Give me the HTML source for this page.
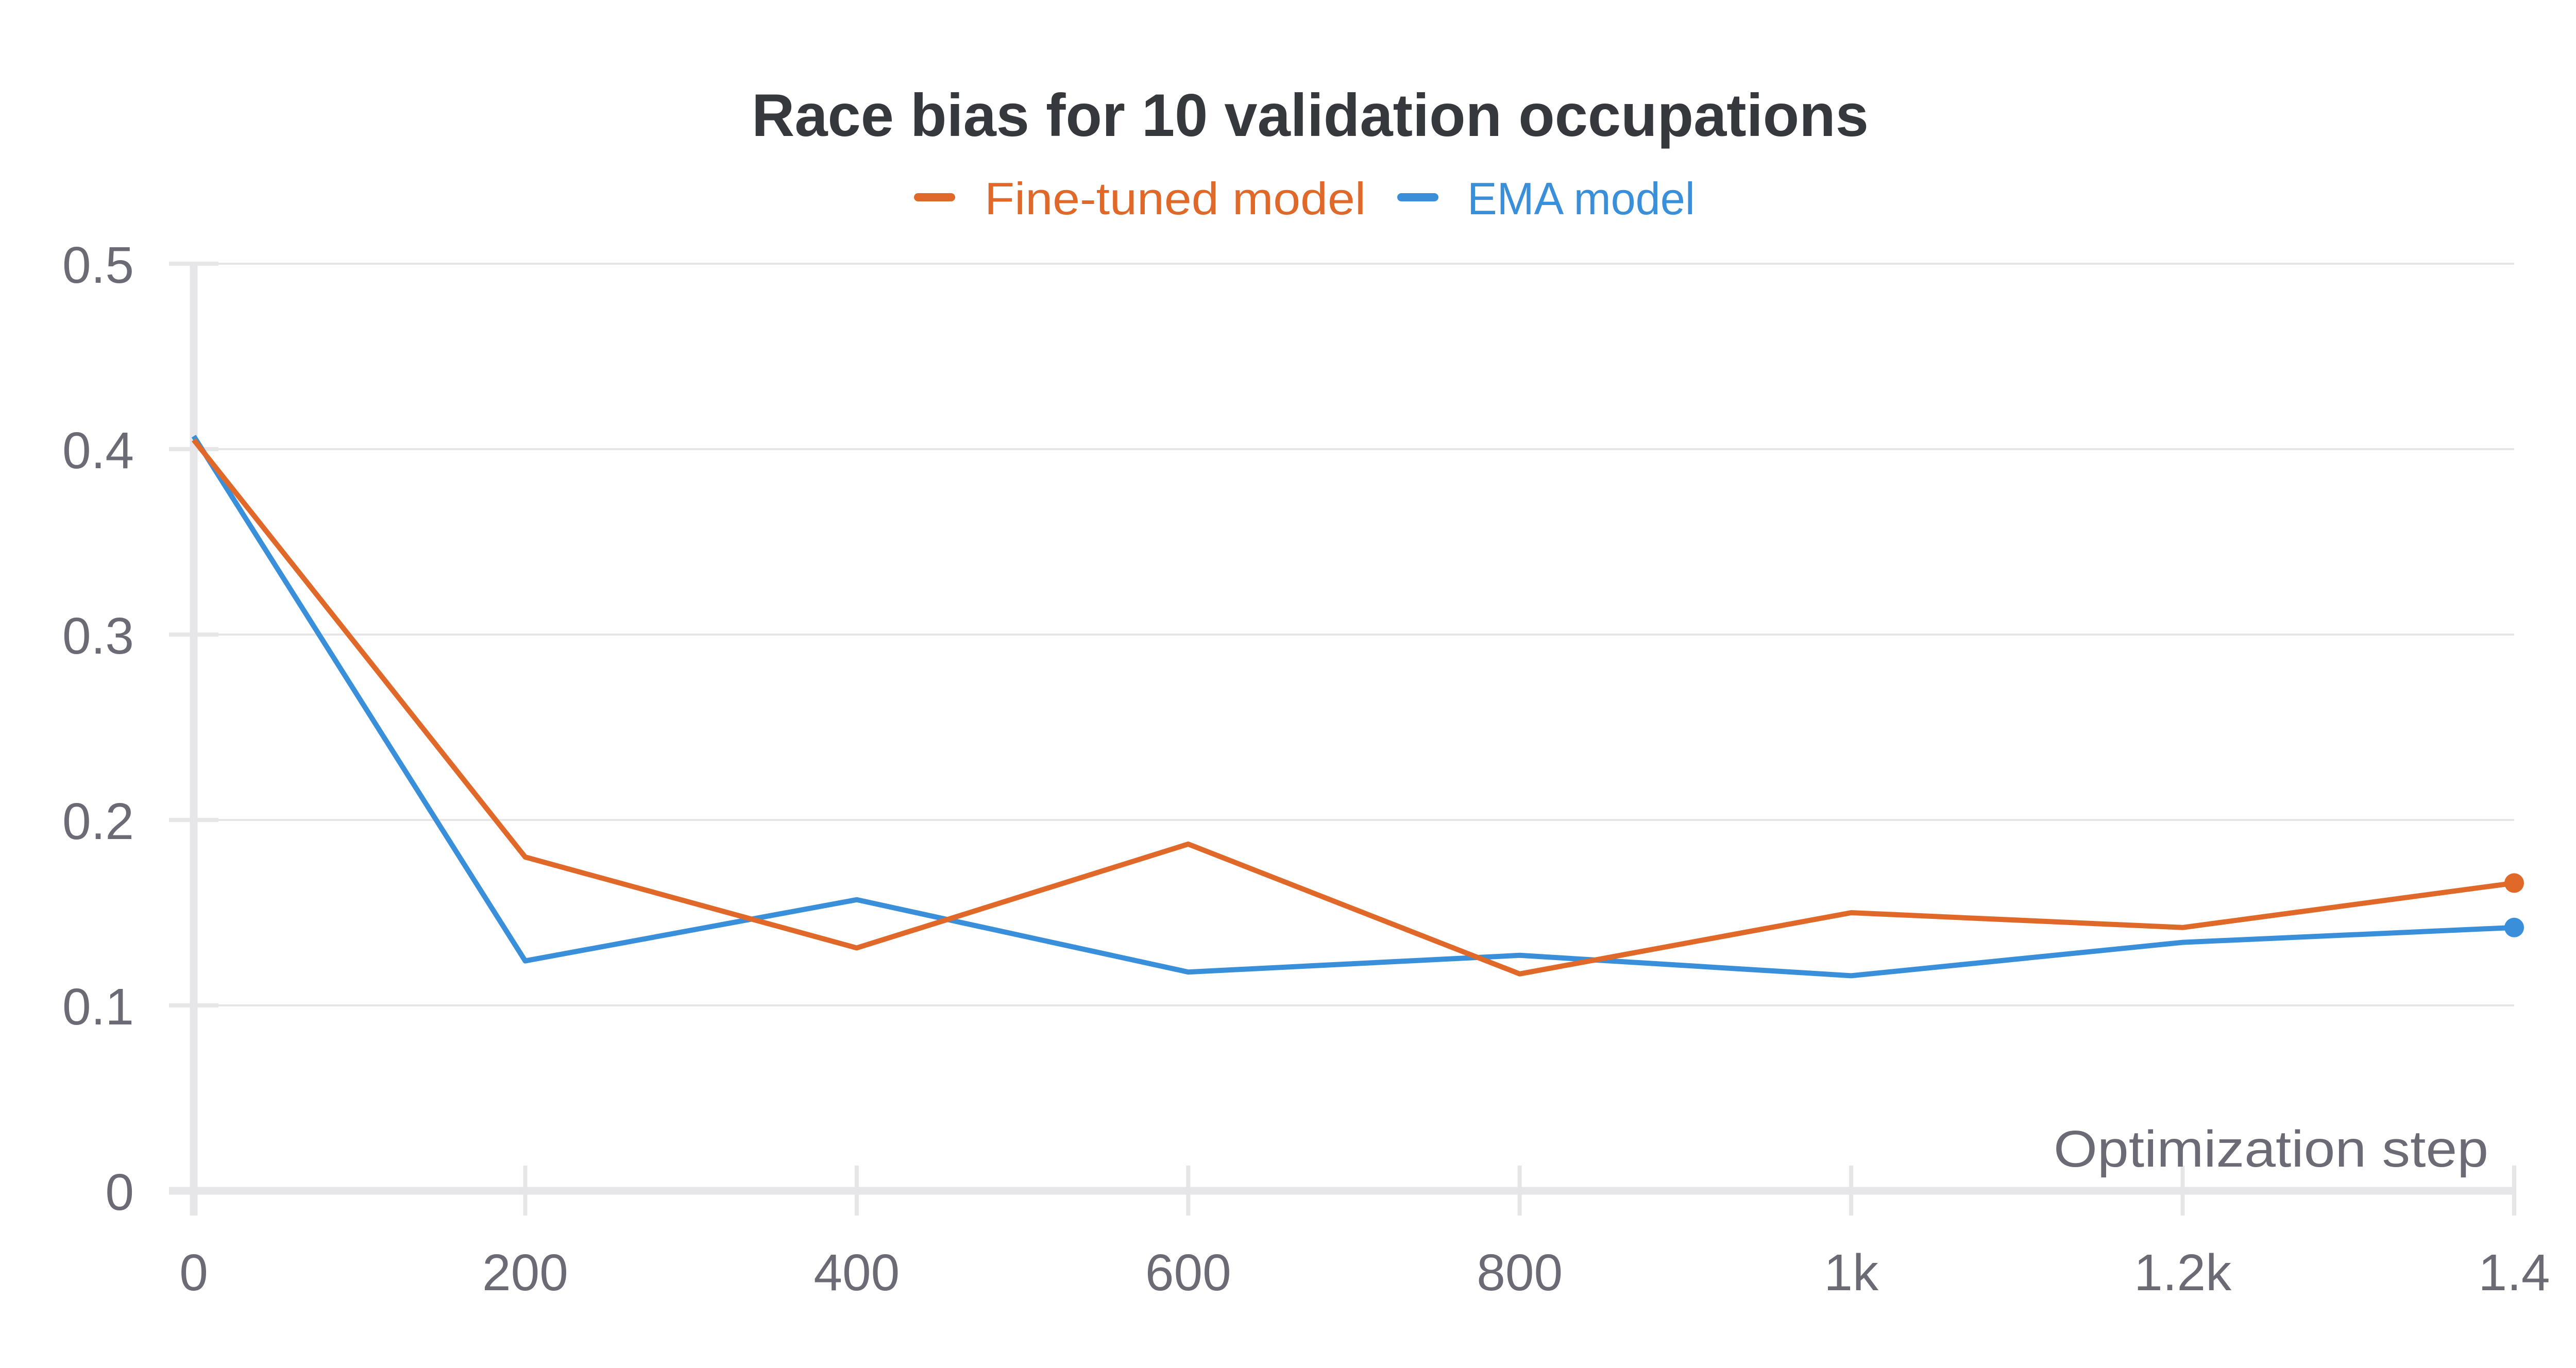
<!DOCTYPE html>
<html><head><meta charset="utf-8"><style>html,body{margin:0;padding:0;background:#fff}svg{display:block}</style></head>
<body>
<svg id="chart" width="5056" height="2656" viewBox="0 0 5056 2656" xmlns="http://www.w3.org/2000/svg" font-family="'Liberation Sans', sans-serif">
<text x="1459" y="264" font-size="117" font-weight="bold" fill="#35393d" textLength="2168" lengthAdjust="spacingAndGlyphs">Race bias for 10 validation occupations</text>
<g>
<g>
<line x1="1782" y1="383" x2="1846" y2="383" stroke="#e0692a" stroke-width="16" stroke-linecap="round"/>
<text x="1911" y="416" font-size="88" fill="#e0692a" textLength="740" lengthAdjust="spacingAndGlyphs">Fine-tuned model</text>
</g>
<g>
<line x1="2720" y1="383" x2="2784" y2="383" stroke="#3a8fdb" stroke-width="16" stroke-linecap="round"/>
<text x="2848" y="416" font-size="88" fill="#3a8fdb" textLength="442" lengthAdjust="spacingAndGlyphs">EMA model</text>
</g>
</g>
<g id="grid"></g>
<g id="axes"></g>
<g id="series"></g>
<text x="4830" y="2265" font-size="100" fill="#6b6b76" text-anchor="end" textLength="844" lengthAdjust="spacingAndGlyphs">Optimization step</text>
</svg>
<script>
const steps = [0, 200, 400, 600, 800, 1000, 1200, 1400];
const fineTuned = [0.405, 0.180, 0.131, 0.187, 0.117, 0.150, 0.142, 0.166];
const ema = [0.407, 0.124, 0.157, 0.118, 0.127, 0.116, 0.134, 0.142];
const yTicks = [0, 0.1, 0.2, 0.3, 0.4, 0.5];
const yTickLabels = ["0", "0.1", "0.2", "0.3", "0.4", "0.5"];
const xTicks = [0, 200, 400, 600, 800, 1000, 1200, 1400];
const xTickLabels = ["0", "200", "400", "600", "800", "1k", "1.2k", "1.4"];

const NS = "http://www.w3.org/2000/svg";
const X0 = 376, X1 = 4880, Y0 = 2312, Y1 = 512;
function xs(v){ return X0 + (v - 0) / 1400 * (X1 - X0); }
function ys(v){ return Y0 - v / 0.5 * (Y0 - Y1); }
function mk(tag, attrs, parent){ const e = document.createElementNS(NS, tag); for (const k in attrs) e.setAttribute(k, attrs[k]); parent.appendChild(e); return e; }

const grid = document.getElementById('grid');
const axes = document.getElementById('axes');
const series = document.getElementById('series');

yTicks.forEach((t, i) => {
  if (t > 0) {
    const g = mk('line', {x1: 424, x2: X1, y1: ys(t), y2: ys(t), stroke: '#e6e6e8', 'stroke-width': 4}, grid);
    
    
    const s = mk('line', {x1: 328, x2: 424, y1: ys(t), y2: ys(t), stroke: '#e6e6e8', 'stroke-width': 8}, grid);
    
    
  }
  const lb = mk('text', {x: 260, y: ys(t) + 37, 'font-size': 100, fill: '#6b6b76', 'text-anchor': 'end'}, axes);
  lb.textContent = yTickLabels[i];
  
  
});

const ya = mk('line', {x1: X0, x2: X0, y1: Y1 + 4, y2: Y0 + 48, stroke: '#e6e6e8', 'stroke-width': 15}, axes);


const xa = mk('line', {x1: 328, x2: X1, y1: Y0, y2: Y0, stroke: '#e6e6e8', 'stroke-width': 15}, axes);



xTicks.forEach((t, i) => {
  if (t > 0) {
    const tk = mk('line', {x1: xs(t), x2: xs(t), y1: Y0 - 49, y2: Y0 + 48, stroke: '#e6e6e8', 'stroke-width': 8}, axes);
    
    
  }
  const lb = mk('text', {x: xs(t), y: 2505, 'font-size': 100, fill: '#6b6b76', 'text-anchor': 'middle'}, axes);
  lb.textContent = xTickLabels[i];
  
  
});

function drawSeries(vals, color, name){
  const pts = vals.map((v, i) => xs(steps[i]) + ',' + ys(v)).join(' ');
  const pl = mk('polyline', {points: pts, fill: 'none', stroke: color, 'stroke-width': 10, 'stroke-linejoin': 'round'}, series);
  
  
  const last = vals.length - 1;
  const c = mk('circle', {cx: xs(steps[last]), cy: ys(vals[last]), r: 19, fill: color}, series);
  
  
}
drawSeries(ema, '#3a8fdb', 'ema-model');
drawSeries(fineTuned, '#e0692a', 'fine-tuned-model');
</script>
</body></html>
